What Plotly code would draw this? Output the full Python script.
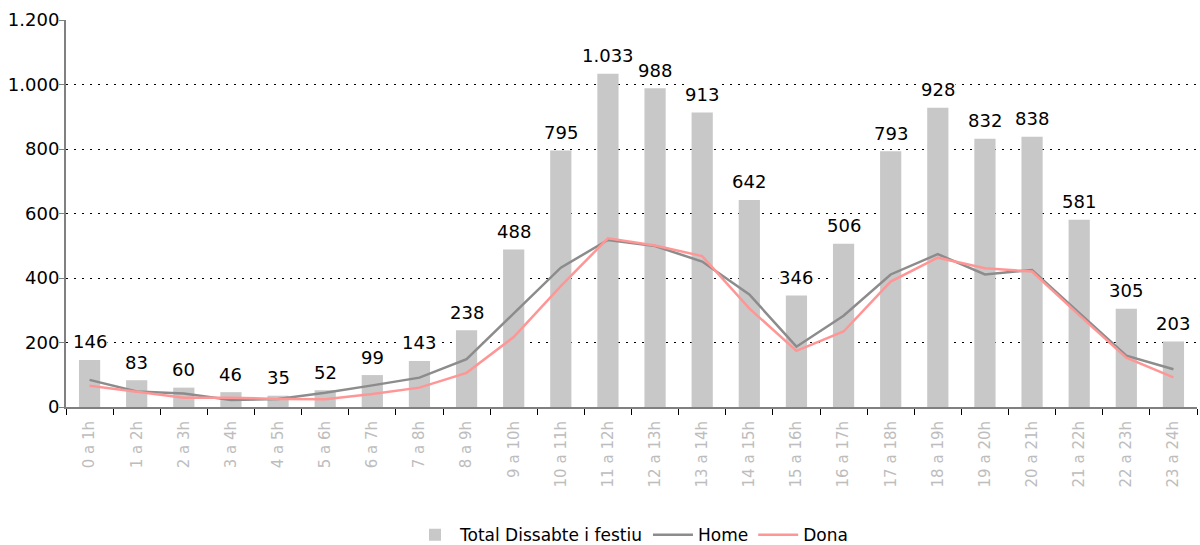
import plotly.graph_objects as go

# Hourly franges
hours = [f"{h} a {h + 1}h" for h in range(24)]

# Total per hour on Saturdays and holidays
total = [146, 83, 60, 46, 35, 52, 99, 143, 238, 488, 795, 1033, 988, 913,
         642, 346, 506, 793, 928, 832, 838, 581, 305, 203]

# Men
home = [84, 48, 42, 22, 25, 44, 67, 91, 148, 291, 432, 518, 499, 451,
        349, 187, 283, 411, 474, 411, 425, 292, 159, 117]

# Women
dona = [66, 48, 29, 29, 25, 24, 40, 60, 106, 217, 375, 523, 501, 468,
        306, 174, 234, 389, 463, 430, 420, 285, 153, 92]

FONT = "DejaVu Sans"

fig = go.Figure()
fig.add_trace(go.Bar(
    x=hours, y=total, name="Total Dissabte i festiu",
    marker=dict(color="#c8c8c8", line=dict(width=0)), width=0.45,
))
fig.add_trace(go.Scatter(
    x=hours, y=home, name="Home", mode="lines",
    line=dict(color="#8c8c8c", width=2.5),
))
fig.add_trace(go.Scatter(
    x=hours, y=dona, name="Dona", mode="lines",
    line=dict(color="#ff9696", width=2.5),
))


def fmt(v):
    return f"{v:,}".replace(",", ".")


for h, v in zip(hours, total):
    fig.add_annotation(
        x=h, y=v, text=fmt(v), showarrow=False, yanchor="middle", yshift=18,
        font=dict(family=FONT, size=18, color="black"),
        bgcolor="white", borderpad=0,
    )

fig.update_layout(
    width=1200, height=545,
    margin=dict(l=66, r=3, t=20, b=138, autoexpand=False),
    paper_bgcolor="white", plot_bgcolor="white",
    separators=",.",
    font=dict(family=FONT, size=18, color="black"),
    showlegend=True,
    legend=dict(
        orientation="h", x=0.5, xanchor="center",
        yref="container", y=0.018, yanchor="middle",
        font=dict(family=FONT, size=17, color="black"),
        traceorder="normal", itemwidth=40,
    ),
    bargap=0.55,
)

fig.update_xaxes(
    type="category", automargin=False,
    showline=True, linecolor="#808080", linewidth=2,
    ticks="outside", tickson="boundaries", ticklen=6, tickcolor="black",
    tickangle=-90,
    tickfont=dict(family=FONT, size=15, color="#bdbdbd"),
    showgrid=False,
    ticklabelstandoff=6,
)

fig.update_yaxes(
    range=[0, 1200], tickvals=[0, 200, 400, 600, 800, 1000, 1200],
    tickformat=",d", automargin=False,
    showline=True, linecolor="#808080", linewidth=2,
    ticks="outside", ticklen=5, tickcolor="#808080",
    showgrid=True, gridcolor="black", gridwidth=1, griddash="2px,6px",
    zeroline=False,
    tickfont=dict(family=FONT, size=18, color="black"),
    ticklabelstandoff=-4,
)

fig.write_html("out.html")
